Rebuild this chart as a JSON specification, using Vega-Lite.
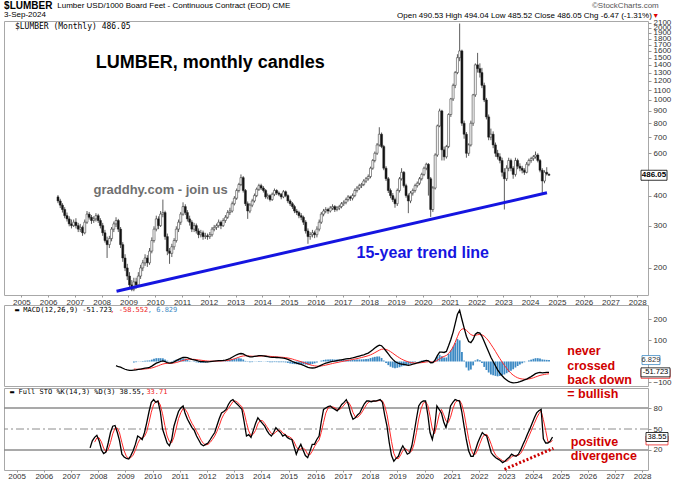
{
  "$schema": "https://vega.github.io/schema/vega-lite/v6.json",
  "background": "white",
  "padding": {"left": 2, "top": 0, "right": 0, "bottom": 0},
  "config": {
    "view": {"stroke": "#a8a8a8", "strokeWidth": 1},
    "axis": {"labelFont": "Liberation Sans", "labelFontSize": 8, "labelColor": "#333333", "domain": false, "tickColor": "#999999", "tickSize": 3, "grid": false, "labelPadding": 2},
    "text": {"font": "Liberation Sans"}
  },
  "datasets": {
    "px": [
      {"d":"2006-05-15","o":395,"h":402,"l":372,"c":380},{"d":"2006-06-15","o":380,"h":388,"l":355,"c":365},{"d":"2006-07-15","o":365,"h":372,"l":340,"c":350},{"d":"2006-08-15","o":350,"h":358,"l":322,"c":330},{"d":"2006-09-15","o":330,"h":340,"l":312,"c":320},{"d":"2006-10-15","o":320,"h":328,"l":298,"c":305},{"d":"2006-11-15","o":305,"h":318,"l":292,"c":300},{"d":"2006-12-15","o":300,"h":318,"l":296,"c":310},
      {"d":"2007-01-15","o":310,"h":322,"l":292,"c":300},{"d":"2007-02-15","o":300,"h":308,"l":282,"c":290},{"d":"2007-03-15","o":290,"h":305,"l":282,"c":295},{"d":"2007-04-15","o":295,"h":300,"l":272,"c":280},{"d":"2007-05-15","o":280,"h":318,"l":276,"c":310},{"d":"2007-06-15","o":310,"h":345,"l":305,"c":335},{"d":"2007-07-15","o":335,"h":342,"l":318,"c":325},{"d":"2007-08-15","o":325,"h":332,"l":305,"c":315},{"d":"2007-09-15","o":315,"h":328,"l":308,"c":320},{"d":"2007-10-15","o":320,"h":338,"l":312,"c":330},{"d":"2007-11-15","o":330,"h":336,"l":308,"c":315},{"d":"2007-12-15","o":315,"h":322,"l":292,"c":300},
      {"d":"2008-01-15","o":300,"h":308,"l":272,"c":280},{"d":"2008-02-15","o":280,"h":288,"l":255,"c":260},{"d":"2008-03-15","o":260,"h":270,"l":220,"c":250},{"d":"2008-04-15","o":250,"h":272,"l":242,"c":265},{"d":"2008-05-15","o":265,"h":296,"l":258,"c":290},{"d":"2008-06-15","o":290,"h":312,"l":282,"c":305},{"d":"2008-07-15","o":305,"h":325,"l":296,"c":315},{"d":"2008-08-15","o":315,"h":320,"l":282,"c":290},{"d":"2008-09-15","o":290,"h":296,"l":242,"c":250},{"d":"2008-10-15","o":250,"h":256,"l":212,"c":220},{"d":"2008-11-15","o":220,"h":228,"l":194,"c":200},{"d":"2008-12-15","o":200,"h":208,"l":178,"c":185},
      {"d":"2009-01-15","o":185,"h":192,"l":166,"c":170},{"d":"2009-02-15","o":170,"h":178,"l":160,"c":163},{"d":"2009-03-15","o":163,"h":182,"l":160,"c":175},{"d":"2009-04-15","o":175,"h":182,"l":164,"c":170},{"d":"2009-05-15","o":170,"h":192,"l":167,"c":185},{"d":"2009-06-15","o":185,"h":206,"l":180,"c":200},{"d":"2009-07-15","o":200,"h":216,"l":194,"c":210},{"d":"2009-08-15","o":210,"h":228,"l":204,"c":220},{"d":"2009-09-15","o":220,"h":226,"l":202,"c":210},{"d":"2009-10-15","o":210,"h":242,"l":206,"c":235},{"d":"2009-11-15","o":235,"h":268,"l":230,"c":260},{"d":"2009-12-15","o":260,"h":298,"l":255,"c":290},
      {"d":"2010-01-15","o":290,"h":330,"l":284,"c":320},{"d":"2010-02-15","o":320,"h":328,"l":290,"c":300},{"d":"2010-03-15","o":300,"h":345,"l":296,"c":335},{"d":"2010-04-15","o":335,"h":385,"l":325,"c":340},{"d":"2010-05-15","o":340,"h":346,"l":262,"c":270},{"d":"2010-06-15","o":270,"h":278,"l":226,"c":235},{"d":"2010-07-15","o":235,"h":242,"l":208,"c":230},{"d":"2010-08-15","o":230,"h":252,"l":222,"c":245},{"d":"2010-09-15","o":245,"h":266,"l":238,"c":260},{"d":"2010-10-15","o":260,"h":298,"l":255,"c":290},{"d":"2010-11-15","o":290,"h":318,"l":282,"c":310},{"d":"2010-12-15","o":310,"h":342,"l":302,"c":335},
      {"d":"2011-01-15","o":335,"h":375,"l":330,"c":360},{"d":"2011-02-15","o":360,"h":368,"l":332,"c":340},{"d":"2011-03-15","o":340,"h":348,"l":312,"c":320},{"d":"2011-04-15","o":320,"h":330,"l":300,"c":310},{"d":"2011-05-15","o":310,"h":316,"l":282,"c":290},{"d":"2011-06-15","o":290,"h":308,"l":282,"c":300},{"d":"2011-07-15","o":300,"h":306,"l":278,"c":285},{"d":"2011-08-15","o":285,"h":292,"l":266,"c":275},{"d":"2011-09-15","o":275,"h":288,"l":268,"c":280},{"d":"2011-10-15","o":280,"h":286,"l":262,"c":270},{"d":"2011-11-15","o":270,"h":280,"l":264,"c":272},{"d":"2011-12-15","o":272,"h":278,"l":262,"c":270},
      {"d":"2012-01-15","o":270,"h":282,"l":264,"c":275},{"d":"2012-02-15","o":275,"h":296,"l":270,"c":290},{"d":"2012-03-15","o":290,"h":302,"l":284,"c":295},{"d":"2012-04-15","o":295,"h":306,"l":288,"c":300},{"d":"2012-05-15","o":300,"h":318,"l":294,"c":310},{"d":"2012-06-15","o":310,"h":315,"l":290,"c":300},{"d":"2012-07-15","o":300,"h":322,"l":296,"c":315},{"d":"2012-08-15","o":315,"h":332,"l":308,"c":325},{"d":"2012-09-15","o":325,"h":348,"l":320,"c":340},{"d":"2012-10-15","o":340,"h":356,"l":332,"c":345},{"d":"2012-11-15","o":345,"h":378,"l":340,"c":370},{"d":"2012-12-15","o":370,"h":398,"l":364,"c":390},
      {"d":"2013-01-15","o":390,"h":428,"l":384,"c":420},{"d":"2013-02-15","o":420,"h":452,"l":412,"c":445},{"d":"2013-03-15","o":445,"h":490,"l":438,"c":475},{"d":"2013-04-15","o":475,"h":482,"l":412,"c":420},{"d":"2013-05-15","o":420,"h":426,"l":362,"c":370},{"d":"2013-06-15","o":370,"h":378,"l":320,"c":345},{"d":"2013-07-15","o":345,"h":372,"l":338,"c":365},{"d":"2013-08-15","o":365,"h":388,"l":358,"c":380},{"d":"2013-09-15","o":380,"h":408,"l":374,"c":400},{"d":"2013-10-15","o":400,"h":432,"l":394,"c":425},{"d":"2013-11-15","o":425,"h":448,"l":418,"c":440},{"d":"2013-12-15","o":440,"h":448,"l":422,"c":430},
      {"d":"2014-01-15","o":430,"h":438,"l":412,"c":420},{"d":"2014-02-15","o":420,"h":426,"l":388,"c":395},{"d":"2014-03-15","o":395,"h":408,"l":386,"c":400},{"d":"2014-04-15","o":400,"h":405,"l":378,"c":385},{"d":"2014-05-15","o":385,"h":412,"l":380,"c":405},{"d":"2014-06-15","o":405,"h":428,"l":398,"c":420},{"d":"2014-07-15","o":420,"h":425,"l":402,"c":410},{"d":"2014-08-15","o":410,"h":416,"l":398,"c":405},{"d":"2014-09-15","o":405,"h":410,"l":386,"c":395},{"d":"2014-10-15","o":395,"h":422,"l":390,"c":415},{"d":"2014-11-15","o":415,"h":420,"l":394,"c":400},{"d":"2014-12-15","o":400,"h":405,"l":372,"c":380},
      {"d":"2015-01-15","o":380,"h":386,"l":362,"c":370},{"d":"2015-02-15","o":370,"h":376,"l":352,"c":360},{"d":"2015-03-15","o":360,"h":366,"l":338,"c":345},{"d":"2015-04-15","o":345,"h":352,"l":332,"c":340},{"d":"2015-05-15","o":340,"h":346,"l":322,"c":330},{"d":"2015-06-15","o":330,"h":338,"l":316,"c":325},{"d":"2015-07-15","o":325,"h":330,"l":302,"c":310},{"d":"2015-08-15","o":310,"h":316,"l":278,"c":285},{"d":"2015-09-15","o":285,"h":292,"l":252,"c":270},{"d":"2015-10-15","o":270,"h":282,"l":262,"c":275},{"d":"2015-11-15","o":275,"h":288,"l":268,"c":280},{"d":"2015-12-15","o":280,"h":286,"l":266,"c":275},
      {"d":"2016-01-15","o":275,"h":298,"l":268,"c":290},{"d":"2016-02-15","o":290,"h":318,"l":284,"c":310},{"d":"2016-03-15","o":310,"h":342,"l":305,"c":335},{"d":"2016-04-15","o":335,"h":352,"l":328,"c":345},{"d":"2016-05-15","o":345,"h":358,"l":338,"c":350},{"d":"2016-06-15","o":350,"h":356,"l":336,"c":345},{"d":"2016-07-15","o":345,"h":362,"l":340,"c":355},{"d":"2016-08-15","o":355,"h":368,"l":348,"c":360},{"d":"2016-09-15","o":360,"h":365,"l":342,"c":350},{"d":"2016-10-15","o":350,"h":362,"l":344,"c":355},{"d":"2016-11-15","o":355,"h":366,"l":348,"c":360},{"d":"2016-12-15","o":360,"h":376,"l":354,"c":370},
      {"d":"2017-01-15","o":370,"h":382,"l":362,"c":375},{"d":"2017-02-15","o":375,"h":392,"l":368,"c":385},{"d":"2017-03-15","o":385,"h":402,"l":378,"c":395},{"d":"2017-04-15","o":395,"h":400,"l":380,"c":390},{"d":"2017-05-15","o":390,"h":408,"l":382,"c":400},{"d":"2017-06-15","o":400,"h":428,"l":394,"c":420},{"d":"2017-07-15","o":420,"h":438,"l":412,"c":430},{"d":"2017-08-15","o":430,"h":448,"l":422,"c":440},{"d":"2017-09-15","o":440,"h":452,"l":430,"c":445},{"d":"2017-10-15","o":445,"h":468,"l":438,"c":460},{"d":"2017-11-15","o":460,"h":478,"l":452,"c":470},{"d":"2017-12-15","o":470,"h":490,"l":462,"c":480},
      {"d":"2018-01-15","o":480,"h":528,"l":472,"c":520},{"d":"2018-02-15","o":520,"h":568,"l":512,"c":560},{"d":"2018-03-15","o":560,"h":610,"l":550,"c":600},{"d":"2018-04-15","o":600,"h":662,"l":590,"c":650},{"d":"2018-05-15","o":650,"h":770,"l":640,"c":720},{"d":"2018-06-15","o":720,"h":732,"l":630,"c":640},{"d":"2018-07-15","o":640,"h":650,"l":510,"c":520},{"d":"2018-08-15","o":520,"h":530,"l":460,"c":470},{"d":"2018-09-15","o":470,"h":478,"l":410,"c":420},{"d":"2018-10-15","o":420,"h":428,"l":390,"c":400},{"d":"2018-11-15","o":400,"h":410,"l":376,"c":385},{"d":"2018-12-15","o":385,"h":392,"l":356,"c":370},
      {"d":"2019-01-15","o":370,"h":428,"l":362,"c":420},{"d":"2019-02-15","o":420,"h":478,"l":412,"c":470},{"d":"2019-03-15","o":470,"h":520,"l":462,"c":500},{"d":"2019-04-15","o":500,"h":506,"l":432,"c":440},{"d":"2019-05-15","o":440,"h":448,"l":392,"c":400},{"d":"2019-06-15","o":400,"h":408,"l":338,"c":380},{"d":"2019-07-15","o":380,"h":418,"l":372,"c":410},{"d":"2019-08-15","o":410,"h":428,"l":400,"c":420},{"d":"2019-09-15","o":420,"h":448,"l":412,"c":440},{"d":"2019-10-15","o":440,"h":458,"l":432,"c":450},{"d":"2019-11-15","o":450,"h":478,"l":442,"c":470},{"d":"2019-12-15","o":470,"h":498,"l":462,"c":490},
      {"d":"2020-01-15","o":490,"h":528,"l":482,"c":520},{"d":"2020-02-15","o":520,"h":548,"l":510,"c":540},{"d":"2020-03-15","o":540,"h":546,"l":400,"c":470},{"d":"2020-04-15","o":470,"h":478,"l":326,"c":350},{"d":"2020-05-15","o":350,"h":438,"l":342,"c":430},{"d":"2020-06-15","o":430,"h":600,"l":424,"c":590},{"d":"2020-07-15","o":590,"h":790,"l":580,"c":780},{"d":"2020-08-15","o":780,"h":920,"l":770,"c":900},{"d":"2020-09-15","o":900,"h":910,"l":560,"c":620},{"d":"2020-10-15","o":620,"h":640,"l":560,"c":580},{"d":"2020-11-15","o":580,"h":650,"l":570,"c":640},{"d":"2020-12-15","o":640,"h":880,"l":630,"c":870},
      {"d":"2021-01-15","o":870,"h":1020,"l":850,"c":1010},{"d":"2021-02-15","o":1010,"h":1170,"l":990,"c":1150},{"d":"2021-03-15","o":1150,"h":1320,"l":1120,"c":1300},{"d":"2021-04-15","o":1300,"h":1550,"l":1280,"c":1500},{"d":"2021-05-15","o":1500,"h":2080,"l":1450,"c":1600},{"d":"2021-06-15","o":1600,"h":1620,"l":780,"c":800},{"d":"2021-07-15","o":800,"h":820,"l":690,"c":720},{"d":"2021-08-15","o":720,"h":735,"l":575,"c":600},{"d":"2021-09-15","o":600,"h":660,"l":585,"c":650},{"d":"2021-10-15","o":650,"h":820,"l":640,"c":800},{"d":"2021-11-15","o":800,"h":1060,"l":780,"c":1050},{"d":"2021-12-15","o":1050,"h":1420,"l":1030,"c":1400},
      {"d":"2022-01-15","o":1400,"h":1570,"l":1300,"c":1350},{"d":"2022-02-15","o":1350,"h":1420,"l":1240,"c":1300},{"d":"2022-03-15","o":1300,"h":1360,"l":1120,"c":1150},{"d":"2022-04-15","o":1150,"h":1180,"l":980,"c":1000},{"d":"2022-05-15","o":1000,"h":1020,"l":830,"c":850},{"d":"2022-06-15","o":850,"h":870,"l":680,"c":700},{"d":"2022-07-15","o":700,"h":760,"l":680,"c":720},{"d":"2022-08-15","o":720,"h":740,"l":630,"c":650},{"d":"2022-09-15","o":650,"h":665,"l":580,"c":600},{"d":"2022-10-15","o":600,"h":620,"l":565,"c":580},{"d":"2022-11-15","o":580,"h":600,"l":545,"c":560},{"d":"2022-12-15","o":560,"h":575,"l":480,"c":500},
      {"d":"2023-01-15","o":500,"h":520,"l":350,"c":470},{"d":"2023-02-15","o":470,"h":535,"l":460,"c":520},{"d":"2023-03-15","o":520,"h":575,"l":505,"c":560},{"d":"2023-04-15","o":560,"h":570,"l":505,"c":520},{"d":"2023-05-15","o":520,"h":530,"l":470,"c":490},{"d":"2023-06-15","o":490,"h":575,"l":480,"c":560},{"d":"2023-07-15","o":560,"h":570,"l":515,"c":530},{"d":"2023-08-15","o":530,"h":545,"l":505,"c":520},{"d":"2023-09-15","o":520,"h":532,"l":495,"c":510},{"d":"2023-10-15","o":510,"h":520,"l":488,"c":500},{"d":"2023-11-15","o":500,"h":552,"l":495,"c":540},{"d":"2023-12-15","o":540,"h":570,"l":530,"c":560},
      {"d":"2024-01-15","o":560,"h":580,"l":548,"c":570},{"d":"2024-02-15","o":570,"h":590,"l":558,"c":580},{"d":"2024-03-15","o":580,"h":610,"l":570,"c":590},{"d":"2024-04-15","o":590,"h":600,"l":550,"c":560},{"d":"2024-05-15","o":560,"h":568,"l":500,"c":510},{"d":"2024-06-15","o":510,"h":520,"l":410,"c":460},{"d":"2024-07-15","o":460,"h":510,"l":450,"c":500},{"d":"2024-08-15","o":500,"h":525,"l":485,"c":492},{"d":"2024-09-15","o":490.53,"h":494.04,"l":485.52,"c":486.05}
    ],
    "macd": [
      {"d":"2008-07-15","m":-20},{"d":"2008-08-15","m":-25},{"d":"2008-09-15","m":-27},{"d":"2008-10-15","m":-32},{"d":"2008-11-15","m":-37},{"d":"2008-12-15","m":-40},
      {"d":"2009-01-15","m":-42},{"d":"2009-02-15","m":-42},{"d":"2009-03-15","m":-41,"s":-36,"h":-5},{"d":"2009-04-15","m":-40,"s":-36.8,"h":-3.2},{"d":"2009-05-15","m":-38,"s":-37.2,"h":-0.8},{"d":"2009-06-15","m":-36,"s":-37,"h":1},{"d":"2009-07-15","m":-34,"s":-36.4,"h":2.4},{"d":"2009-08-15","m":-32,"s":-35.5,"h":3.5},{"d":"2009-09-15","m":-30,"s":-34.4,"h":4.4},{"d":"2009-10-15","m":-28,"s":-33.1,"h":5.1},{"d":"2009-11-15","m":-22,"s":-30.9,"h":8.9},{"d":"2009-12-15","m":-15,"s":-27.7,"h":12.7},
      {"d":"2010-01-15","m":-8,"s":-23.8,"h":15.8},{"d":"2010-02-15","m":-4,"s":-19.8,"h":15.8},{"d":"2010-03-15","m":0,"s":-15.8,"h":15.8},{"d":"2010-04-15","m":3,"s":-12.1,"h":15.1},{"d":"2010-05-15","m":-1,"s":-9.9,"h":8.9},{"d":"2010-06-15","m":-5,"s":-8.9,"h":3.9},{"d":"2010-07-15","m":-8,"s":-8.7,"h":0.7},{"d":"2010-08-15","m":-6,"s":-8.2,"h":2.2},{"d":"2010-09-15","m":-2,"s":-7,"h":5},{"d":"2010-10-15","m":4,"s":-4.8,"h":8.8},{"d":"2010-11-15","m":10,"s":-1.8,"h":11.8},{"d":"2010-12-15","m":15,"s":1.6,"h":13.4},
      {"d":"2011-01-15","m":19,"s":5.1,"h":13.9},{"d":"2011-02-15","m":20,"s":8.1,"h":11.9},{"d":"2011-03-15","m":18,"s":10.1,"h":7.9},{"d":"2011-04-15","m":14,"s":10.9,"h":3.1},{"d":"2011-05-15","m":10,"s":10.7,"h":-0.7},{"d":"2011-06-15","m":8,"s":10.2,"h":-2.2},{"d":"2011-07-15","m":5,"s":9.1,"h":-4.1},{"d":"2011-08-15","m":2,"s":7.7,"h":-5.7},{"d":"2011-09-15","m":0,"s":6.2,"h":-6.2},{"d":"2011-10-15","m":-1,"s":4.7,"h":-5.7},{"d":"2011-11-15","m":-2,"s":3.4,"h":-5.4},{"d":"2011-12-15","m":-2,"s":2.3,"h":-4.3},
      {"d":"2012-01-15","m":-1,"s":1.6,"h":-2.6},{"d":"2012-02-15","m":1,"s":1.5,"h":-0.5},{"d":"2012-03-15","m":2,"s":1.6,"h":0.4},{"d":"2012-04-15","m":3,"s":1.9,"h":1.1},{"d":"2012-05-15","m":4,"s":2.3,"h":1.7},{"d":"2012-06-15","m":4,"s":2.6,"h":1.4},{"d":"2012-07-15","m":5,"s":3.1,"h":1.9},{"d":"2012-08-15","m":7,"s":3.9,"h":3.1},{"d":"2012-09-15","m":10,"s":5.1,"h":4.9},{"d":"2012-10-15","m":14,"s":6.9,"h":7.1},{"d":"2012-11-15","m":20,"s":9.5,"h":10.5},{"d":"2012-12-15","m":26,"s":12.8,"h":13.2},
      {"d":"2013-01-15","m":32,"s":16.6,"h":15.4},{"d":"2013-02-15","m":36,"s":20.5,"h":15.5},{"d":"2013-03-15","m":38,"s":24,"h":14},{"d":"2013-04-15","m":36,"s":26.4,"h":9.6},{"d":"2013-05-15","m":30,"s":27.1,"h":2.9},{"d":"2013-06-15","m":25,"s":26.7,"h":-1.7},{"d":"2013-07-15","m":22,"s":25.8,"h":-3.8},{"d":"2013-08-15","m":22,"s":25,"h":-3},{"d":"2013-09-15","m":24,"s":24.8,"h":-0.8},{"d":"2013-10-15","m":26,"s":25,"h":1},{"d":"2013-11-15","m":28,"s":25.6,"h":2.4},{"d":"2013-12-15","m":28,"s":26.1,"h":1.9},
      {"d":"2014-01-15","m":27,"s":26.3,"h":0.7},{"d":"2014-02-15","m":25,"s":26,"h":-1},{"d":"2014-03-15","m":23,"s":25.4,"h":-2.4},{"d":"2014-04-15","m":21,"s":24.5,"h":-3.5},{"d":"2014-05-15","m":20,"s":23.6,"h":-3.6},{"d":"2014-06-15","m":20,"s":22.9,"h":-2.9},{"d":"2014-07-15","m":19,"s":22.1,"h":-3.1},{"d":"2014-08-15","m":18,"s":21.3,"h":-3.3},{"d":"2014-09-15","m":17,"s":20.4,"h":-3.4},{"d":"2014-10-15","m":16,"s":19.5,"h":-3.5},{"d":"2014-11-15","m":14,"s":18.4,"h":-4.4},{"d":"2014-12-15","m":10,"s":16.7,"h":-6.7},
      {"d":"2015-01-15","m":5,"s":14.4,"h":-9.4},{"d":"2015-02-15","m":0,"s":11.5,"h":-11.5},{"d":"2015-03-15","m":-4,"s":8.4,"h":-12.4},{"d":"2015-04-15","m":-8,"s":5.1,"h":-13.1},{"d":"2015-05-15","m":-11,"s":1.9,"h":-12.9},{"d":"2015-06-15","m":-14,"s":-1.3,"h":-12.7},{"d":"2015-07-15","m":-18,"s":-4.6,"h":-13.4},{"d":"2015-08-15","m":-23,"s":-8.3,"h":-14.7},{"d":"2015-09-15","m":-28,"s":-12.2,"h":-15.8},{"d":"2015-10-15","m":-30,"s":-15.8,"h":-14.2},{"d":"2015-11-15","m":-31,"s":-18.8,"h":-12.2},{"d":"2015-12-15","m":-30,"s":-21,"h":-9},
      {"d":"2016-01-15","m":-27,"s":-22.2,"h":-4.8},{"d":"2016-02-15","m":-22,"s":-22.2,"h":0.2},{"d":"2016-03-15","m":-17,"s":-21.2,"h":4.2},{"d":"2016-04-15","m":-12,"s":-19.3,"h":7.3},{"d":"2016-05-15","m":-8,"s":-17.1,"h":9.1},{"d":"2016-06-15","m":-5,"s":-14.7,"h":9.7},{"d":"2016-07-15","m":-2,"s":-12.1,"h":10.1},{"d":"2016-08-15","m":1,"s":-9.5,"h":10.5},{"d":"2016-09-15","m":2,"s":-7.2,"h":9.2},{"d":"2016-10-15","m":4,"s":-5,"h":9},{"d":"2016-11-15","m":6,"s":-2.8,"h":8.8},{"d":"2016-12-15","m":8,"s":-0.6,"h":8.6},
      {"d":"2017-01-15","m":10,"s":1.5,"h":8.5},{"d":"2017-02-15","m":12,"s":3.6,"h":8.4},{"d":"2017-03-15","m":14,"s":5.7,"h":8.3},{"d":"2017-04-15","m":15,"s":7.5,"h":7.5},{"d":"2017-05-15","m":17,"s":9.4,"h":7.6},{"d":"2017-06-15","m":20,"s":11.5,"h":8.5},{"d":"2017-07-15","m":23,"s":13.8,"h":9.2},{"d":"2017-08-15","m":26,"s":16.3,"h":9.7},{"d":"2017-09-15","m":29,"s":18.8,"h":10.2},{"d":"2017-10-15","m":32,"s":21.5,"h":10.5},{"d":"2017-11-15","m":36,"s":24.4,"h":11.6},{"d":"2017-12-15","m":40,"s":27.5,"h":12.5},
      {"d":"2018-01-15","m":48,"s":31.6,"h":16.4},{"d":"2018-02-15","m":56,"s":36.5,"h":19.5},{"d":"2018-03-15","m":64,"s":42,"h":22},{"d":"2018-04-15","m":72,"s":48,"h":24},{"d":"2018-05-15","m":78,"s":54,"h":24},{"d":"2018-06-15","m":75,"s":58.2,"h":16.8},{"d":"2018-07-15","m":64,"s":59.3,"h":4.7},{"d":"2018-08-15","m":50,"s":57.5,"h":-7.5},{"d":"2018-09-15","m":36,"s":53.2,"h":-17.2},{"d":"2018-10-15","m":22,"s":46.9,"h":-24.9},{"d":"2018-11-15","m":10,"s":39.5,"h":-29.5},{"d":"2018-12-15","m":0,"s":31.6,"h":-31.6},
      {"d":"2019-01-15","m":-6,"s":24.1,"h":-30.1},{"d":"2019-02-15","m":-10,"s":17.3,"h":-27.3},{"d":"2019-03-15","m":-12,"s":11.4,"h":-23.4},{"d":"2019-04-15","m":-14,"s":6.3,"h":-20.3},{"d":"2019-05-15","m":-16,"s":1.9,"h":-17.9},{"d":"2019-06-15","m":-18,"s":-2.1,"h":-15.9},{"d":"2019-07-15","m":-16,"s":-4.9,"h":-11.1},{"d":"2019-08-15","m":-13,"s":-6.5,"h":-6.5},{"d":"2019-09-15","m":-10,"s":-7.2,"h":-2.8},{"d":"2019-10-15","m":-7,"s":-7.2,"h":0.2},{"d":"2019-11-15","m":-4,"s":-6.5,"h":2.5},{"d":"2019-12-15","m":-1,"s":-5.4,"h":4.4},
      {"d":"2020-01-15","m":2,"s":-3.9,"h":5.9},{"d":"2020-02-15","m":5,"s":-2.1,"h":7.1},{"d":"2020-03-15","m":3,"s":-1.1,"h":4.1},{"d":"2020-04-15","m":-6,"s":-2.1,"h":-3.9},{"d":"2020-05-15","m":-5,"s":-2.7,"h":-2.3},{"d":"2020-06-15","m":8,"s":-0.6,"h":8.6},{"d":"2020-07-15","m":28,"s":5.1,"h":22.9},{"d":"2020-08-15","m":45,"s":13.1,"h":31.9},{"d":"2020-09-15","m":45,"s":19.5,"h":25.5},{"d":"2020-10-15","m":43,"s":24.2,"h":18.8},{"d":"2020-11-15","m":48,"s":28.9,"h":19.1},{"d":"2020-12-15","m":75,"s":38.1,"h":36.9},
      {"d":"2021-01-15","m":105,"s":51.5,"h":53.5},{"d":"2021-02-15","m":140,"s":69.2,"h":70.8},{"d":"2021-03-15","m":180,"s":91.4,"h":88.6},{"d":"2021-04-15","m":225,"s":118.1,"h":106.9},{"d":"2021-05-15","m":244,"s":143.3,"h":100.7},{"d":"2021-06-15","m":200,"s":154.6,"h":45.4},{"d":"2021-07-15","m":160,"s":155.7,"h":4.3},{"d":"2021-08-15","m":120,"s":148.6,"h":-28.6},{"d":"2021-09-15","m":95,"s":137.9,"h":-42.9},{"d":"2021-10-15","m":90,"s":128.3,"h":-38.3},{"d":"2021-11-15","m":105,"s":123.6,"h":-18.6},{"d":"2021-12-15","m":130,"s":124.9,"h":5.1},
      {"d":"2022-01-15","m":138,"s":127.5,"h":10.5},{"d":"2022-02-15","m":135,"s":129,"h":6},{"d":"2022-03-15","m":120,"s":127.2,"h":-7.2},{"d":"2022-04-15","m":95,"s":120.8,"h":-25.8},{"d":"2022-05-15","m":70,"s":110.6,"h":-40.6},{"d":"2022-06-15","m":45,"s":97.5,"h":-52.5},{"d":"2022-07-15","m":20,"s":82,"h":-62},{"d":"2022-08-15","m":0,"s":65.6,"h":-65.6},{"d":"2022-09-15","m":-20,"s":48.5,"h":-68.5},{"d":"2022-10-15","m":-40,"s":30.8,"h":-70.8},{"d":"2022-11-15","m":-55,"s":13.6,"h":-68.6},{"d":"2022-12-15","m":-68,"s":-2.7,"h":-65.3},
      {"d":"2023-01-15","m":-80,"s":-18.2,"h":-61.8},{"d":"2023-02-15","m":-88,"s":-32.1,"h":-55.9},{"d":"2023-03-15","m":-95,"s":-44.7,"h":-50.3},{"d":"2023-04-15","m":-100,"s":-55.8,"h":-44.2},{"d":"2023-05-15","m":-102,"s":-65,"h":-37},{"d":"2023-06-15","m":-101,"s":-72.2,"h":-28.8},{"d":"2023-07-15","m":-99,"s":-77.6,"h":-21.4},{"d":"2023-08-15","m":-96,"s":-81.3,"h":-14.7},{"d":"2023-09-15","m":-92,"s":-83.4,"h":-8.6},{"d":"2023-10-15","m":-88,"s":-84.3,"h":-3.7},{"d":"2023-11-15","m":-84,"s":-84.3,"h":0.3},{"d":"2023-12-15","m":-78,"s":-83,"h":5},
      {"d":"2024-01-15","m":-72,"s":-80.8,"h":8.8},{"d":"2024-02-15","m":-65,"s":-77.7,"h":12.7},{"d":"2024-03-15","m":-58,"s":-73.7,"h":15.7},{"d":"2024-04-15","m":-54,"s":-69.8,"h":15.8},{"d":"2024-05-15","m":-52,"s":-66.2,"h":14.2},{"d":"2024-06-15","m":-54,"s":-63.8,"h":9.8},{"d":"2024-07-15","m":-53,"s":-61.6,"h":8.6},{"d":"2024-08-15","m":-52,"s":-59.7,"h":7.7},{"d":"2024-09-15","m":-51.723,"s":-58.552,"h":6.829}
    ],
    "sto": [
      {"d":"2007-09-15","k":23},{"d":"2007-10-15","k":33},{"d":"2007-11-15","k":38,"dk":31.3},{"d":"2007-12-15","k":41,"dk":37.3},
      {"d":"2008-01-15","k":33,"dk":37.3},{"d":"2008-02-15","k":20,"dk":31.3},{"d":"2008-03-15","k":15,"dk":22.7},{"d":"2008-04-15","k":17,"dk":17.3},{"d":"2008-05-15","k":30,"dk":20.7},{"d":"2008-06-15","k":45,"dk":30.7},{"d":"2008-07-15","k":54,"dk":43},{"d":"2008-08-15","k":55,"dk":51.3},{"d":"2008-09-15","k":45,"dk":51.3},{"d":"2008-10-15","k":33,"dk":44.3},{"d":"2008-11-15","k":14,"dk":30.7},{"d":"2008-12-15","k":10,"dk":19},
      {"d":"2009-01-15","k":8,"dk":10.7},{"d":"2009-02-15","k":7,"dk":8.3},{"d":"2009-03-15","k":12,"dk":9},{"d":"2009-04-15","k":19,"dk":12.7},{"d":"2009-05-15","k":28,"dk":19.7},{"d":"2009-06-15","k":40,"dk":29},{"d":"2009-07-15","k":38,"dk":35.3},{"d":"2009-08-15","k":35,"dk":37.7},{"d":"2009-09-15","k":45,"dk":39.3},{"d":"2009-10-15","k":59,"dk":46.3},{"d":"2009-11-15","k":75,"dk":59.7},{"d":"2009-12-15","k":88,"dk":74},
      {"d":"2010-01-15","k":92,"dk":85},{"d":"2010-02-15","k":88,"dk":89.3},{"d":"2010-03-15","k":90,"dk":90},{"d":"2010-04-15","k":75,"dk":84.3},{"d":"2010-05-15","k":50,"dk":71.7},{"d":"2010-06-15","k":40,"dk":55},{"d":"2010-07-15","k":30,"dk":40},{"d":"2010-08-15","k":26,"dk":32},{"d":"2010-09-15","k":35,"dk":30.3},{"d":"2010-10-15","k":54,"dk":38.3},{"d":"2010-11-15","k":65,"dk":51.3},{"d":"2010-12-15","k":75,"dk":64.7},
      {"d":"2011-01-15","k":80,"dk":73.3},{"d":"2011-02-15","k":83,"dk":79.3},{"d":"2011-03-15","k":72,"dk":78.3},{"d":"2011-04-15","k":64,"dk":73},{"d":"2011-05-15","k":58,"dk":64.7},{"d":"2011-06-15","k":52,"dk":58},{"d":"2011-07-15","k":48,"dk":52.7},{"d":"2011-08-15","k":40,"dk":46.7},{"d":"2011-09-15","k":34,"dk":40.7},{"d":"2011-10-15","k":28,"dk":34},{"d":"2011-11-15","k":26,"dk":29.3},{"d":"2011-12-15","k":28,"dk":27.3},
      {"d":"2012-01-15","k":30,"dk":28},{"d":"2012-02-15","k":35,"dk":31},{"d":"2012-03-15","k":40,"dk":35},{"d":"2012-04-15","k":45,"dk":40},{"d":"2012-05-15","k":55,"dk":46.7},{"d":"2012-06-15","k":65,"dk":55},{"d":"2012-07-15","k":73,"dk":64.3},{"d":"2012-08-15","k":75,"dk":71},{"d":"2012-09-15","k":78,"dk":75.3},{"d":"2012-10-15","k":85,"dk":79.3},{"d":"2012-11-15","k":90,"dk":84.3},{"d":"2012-12-15","k":92,"dk":89},
      {"d":"2013-01-15","k":88,"dk":90},{"d":"2013-02-15","k":85,"dk":88.3},{"d":"2013-03-15","k":82,"dk":85},{"d":"2013-04-15","k":78,"dk":81.7},{"d":"2013-05-15","k":60,"dk":73.3},{"d":"2013-06-15","k":40,"dk":59.3},{"d":"2013-07-15","k":42,"dk":47.3},{"d":"2013-08-15","k":38,"dk":40},{"d":"2013-09-15","k":48,"dk":42.7},{"d":"2013-10-15","k":58,"dk":48},{"d":"2013-11-15","k":66,"dk":57.3},{"d":"2013-12-15","k":62,"dk":62},
      {"d":"2014-01-15","k":58,"dk":62},{"d":"2014-02-15","k":54,"dk":58},{"d":"2014-03-15","k":48,"dk":53.3},{"d":"2014-04-15","k":43,"dk":48.3},{"d":"2014-05-15","k":40,"dk":43.7},{"d":"2014-06-15","k":45,"dk":42.7},{"d":"2014-07-15","k":52,"dk":45.7},{"d":"2014-08-15","k":48,"dk":48.3},{"d":"2014-09-15","k":45,"dk":48.3},{"d":"2014-10-15","k":40,"dk":44.3},{"d":"2014-11-15","k":42,"dk":42.3},{"d":"2014-12-15","k":38,"dk":40},
      {"d":"2015-01-15","k":36,"dk":38.7},{"d":"2015-02-15","k":35,"dk":36.3},{"d":"2015-03-15","k":25,"dk":32},{"d":"2015-04-15","k":14,"dk":24.7},{"d":"2015-05-15","k":22,"dk":20.3},{"d":"2015-06-15","k":28,"dk":21.3},{"d":"2015-07-15","k":20,"dk":23.3},{"d":"2015-08-15","k":12,"dk":20},{"d":"2015-09-15","k":9,"dk":13.7},{"d":"2015-10-15","k":18,"dk":13},{"d":"2015-11-15","k":28,"dk":18.3},{"d":"2015-12-15","k":28,"dk":24.7},
      {"d":"2016-01-15","k":35,"dk":30.3},{"d":"2016-02-15","k":40,"dk":34.3},{"d":"2016-03-15","k":60,"dk":45},{"d":"2016-04-15","k":78,"dk":59.3},{"d":"2016-05-15","k":80,"dk":72.7},{"d":"2016-06-15","k":82,"dk":80},{"d":"2016-07-15","k":83,"dk":81.7},{"d":"2016-08-15","k":80,"dk":81.7},{"d":"2016-09-15","k":78,"dk":80.3},{"d":"2016-10-15","k":76,"dk":78},{"d":"2016-11-15","k":80,"dk":78},{"d":"2016-12-15","k":85,"dk":80.3},
      {"d":"2017-01-15","k":88,"dk":84.3},{"d":"2017-02-15","k":92,"dk":88.3},{"d":"2017-03-15","k":85,"dk":88.3},{"d":"2017-04-15","k":72,"dk":83},{"d":"2017-05-15","k":64,"dk":73.7},{"d":"2017-06-15","k":66,"dk":67.3},{"d":"2017-07-15","k":70,"dk":66.7},{"d":"2017-08-15","k":73,"dk":69.7},{"d":"2017-09-15","k":80,"dk":74.3},{"d":"2017-10-15","k":86,"dk":79.7},{"d":"2017-11-15","k":90,"dk":85.3},{"d":"2017-12-15","k":90,"dk":88.7},
      {"d":"2018-01-15","k":89,"dk":89.7},{"d":"2018-02-15","k":90,"dk":89.7},{"d":"2018-03-15","k":90,"dk":89.7},{"d":"2018-04-15","k":91,"dk":90.3},{"d":"2018-05-15","k":92,"dk":91},{"d":"2018-06-15","k":88,"dk":90.3},{"d":"2018-07-15","k":70,"dk":83.3},{"d":"2018-08-15","k":54,"dk":70.7},{"d":"2018-09-15","k":30,"dk":51.3},{"d":"2018-10-15","k":12,"dk":32},{"d":"2018-11-15","k":4,"dk":15.3},{"d":"2018-12-15","k":8,"dk":8},
      {"d":"2019-01-15","k":11,"dk":7.7},{"d":"2019-02-15","k":20,"dk":13},{"d":"2019-03-15","k":26,"dk":19},{"d":"2019-04-15","k":20,"dk":22},{"d":"2019-05-15","k":14,"dk":20},{"d":"2019-06-15","k":16,"dk":16.7},{"d":"2019-07-15","k":26,"dk":18.7},{"d":"2019-08-15","k":45,"dk":29},{"d":"2019-09-15","k":65,"dk":45.3},{"d":"2019-10-15","k":83,"dk":64.3},{"d":"2019-11-15","k":88,"dk":78.7},{"d":"2019-12-15","k":90,"dk":87},
      {"d":"2020-01-15","k":90,"dk":89.3},{"d":"2020-02-15","k":70,"dk":83.3},{"d":"2020-03-15","k":45,"dk":68.3},{"d":"2020-04-15","k":35,"dk":50},{"d":"2020-05-15","k":50,"dk":43.3},{"d":"2020-06-15","k":83,"dk":56},{"d":"2020-07-15","k":78,"dk":70.3},{"d":"2020-08-15","k":73,"dk":78},{"d":"2020-09-15","k":60,"dk":70.3},{"d":"2020-10-15","k":52,"dk":61.7},{"d":"2020-11-15","k":65,"dk":59},{"d":"2020-12-15","k":83,"dk":66.7},
      {"d":"2021-01-15","k":88,"dk":78.7},{"d":"2021-02-15","k":92,"dk":87.7},{"d":"2021-03-15","k":91,"dk":90.3},{"d":"2021-04-15","k":90,"dk":91},{"d":"2021-05-15","k":75,"dk":85.3},{"d":"2021-06-15","k":54,"dk":73},{"d":"2021-07-15","k":35,"dk":54.7},{"d":"2021-08-15","k":19,"dk":36},{"d":"2021-09-15","k":11,"dk":21.7},{"d":"2021-10-15","k":11,"dk":13.7},{"d":"2021-11-15","k":20,"dk":14},{"d":"2021-12-15","k":30,"dk":20.3},
      {"d":"2022-01-15","k":38,"dk":29.3},{"d":"2022-02-15","k":45,"dk":37.7},{"d":"2022-03-15","k":42,"dk":41.7},{"d":"2022-04-15","k":40,"dk":42.3},{"d":"2022-05-15","k":28,"dk":36.7},{"d":"2022-06-15","k":16,"dk":28},{"d":"2022-07-15","k":12,"dk":18.7},{"d":"2022-08-15","k":9,"dk":12.3},{"d":"2022-09-15","k":7,"dk":9.3},{"d":"2022-10-15","k":5,"dk":7},{"d":"2022-11-15","k":2,"dk":4.7},{"d":"2022-12-15","k":4,"dk":3.7},
      {"d":"2023-01-15","k":7,"dk":4.3},{"d":"2023-02-15","k":10,"dk":7},{"d":"2023-03-15","k":14,"dk":10.3},{"d":"2023-04-15","k":12,"dk":12},{"d":"2023-05-15","k":11,"dk":12.3},{"d":"2023-06-15","k":14,"dk":12.3},{"d":"2023-07-15","k":20,"dk":15},{"d":"2023-08-15","k":28,"dk":20.7},{"d":"2023-09-15","k":35,"dk":27.7},{"d":"2023-10-15","k":43,"dk":35.3},{"d":"2023-11-15","k":50,"dk":42.7},{"d":"2023-12-15","k":58,"dk":50.3},
      {"d":"2024-01-15","k":66,"dk":58},{"d":"2024-02-15","k":73,"dk":65.7},{"d":"2024-03-15","k":76,"dk":71.7},{"d":"2024-04-15","k":78,"dk":75.7},{"d":"2024-05-15","k":36,"dk":63.3},{"d":"2024-06-15","k":30,"dk":48},{"d":"2024-07-15","k":30,"dk":32},{"d":"2024-08-15","k":32.6,"dk":30.9},{"d":"2024-09-15","k":38.55,"dk":33.71}
    ]
  },
  "bounds": "flush",
  "spacing": 10,
  "vconcat": [
    {
      "width": 644,
      "height": 274,
      "layer": [
        {
          "data": {"name": "px"},
          "mark": {"type": "rule", "color": "#333333", "strokeWidth": 0.8},
          "encoding": {
            "x": {"field": "d", "type": "temporal", "title": null,
                  "scale": {"domain": [{"year": 2004, "month": 7, "date": 16}, {"year": 2028, "month": 3, "date": 20}]},
                  "axis": {"orient": "bottom", "format": "%Y", "tickCount": {"interval": "year", "step": 1}, "labelPadding": 1, "tickSize": 2, "labelOverlap": false, "labelFlush": false}},
            "y": {"field": "l", "type": "quantitative", "title": null,
                  "scale": {"type": "log", "domain": [154.3, 2131], "nice": false},
                  "axis": {"orient": "right", "values": [200, 300, 400, 500, 600, 700, 800, 900, 1000, 1100, 1200, 1300, 1400, 1500, 1600, 1700, 1800, 1900, 2000, 2100], "labelOverlap": false, "format": "d"}},
            "y2": {"field": "h"}
          }
        },
        {
          "data": {"name": "px"},
          "mark": {"type": "bar", "size": 2, "stroke": "#222222", "strokeWidth": 0.5},
          "encoding": {
            "x": {"field": "d", "type": "temporal", "title": null},
            "y": {"field": "o", "type": "quantitative", "title": null},
            "y2": {"field": "c"},
            "fill": {"condition": {"test": "datum.c > datum.o", "value": "#ffffff"}, "value": "#111111"}
          }
        },
        {
          "data": {"values": [{"d": "2008-07-22", "p": 160}, {"d": "2024-08-18", "p": 411}]},
          "mark": {"type": "line", "color": "#1515e0", "strokeWidth": 3},
          "encoding": {
            "x": {"field": "d", "type": "temporal", "title": null},
            "y": {"field": "p", "type": "quantitative", "title": null}
          }
        },
        {
          "data": {"values": [{}]},
          "mark": {"type": "text", "text": "LUMBER, monthly candles", "fontSize": 18, "fontWeight": "bold", "align": "left", "baseline": "middle", "color": "#000000"},
          "encoding": {"x": {"datum": {"year": 2007, "month": 10, "date": 12}, "type": "temporal"}, "y": {"datum": 1428}}
        },
        {
          "data": {"values": [{}]},
          "mark": {"type": "text", "text": "graddhy.com - join us", "fontSize": 13, "fontWeight": "bold", "align": "left", "baseline": "middle", "color": "#707070"},
          "encoding": {"x": {"datum": {"year": 2007, "month": 9, "date": 12}, "type": "temporal"}, "y": {"datum": 423}}
        },
        {
          "data": {"values": [{}]},
          "mark": {"type": "text", "text": "15-year trend line", "fontSize": 16, "fontWeight": "bold", "align": "left", "baseline": "middle", "color": "#1515e0"},
          "encoding": {"x": {"datum": {"year": 2017, "month": 7, "date": 8}, "type": "temporal"}, "y": {"datum": 231}}
        },
        {
          "data": {"values": [{}]},
          "mark": {"type": "text", "text": "$LUMBER", "fontSize": 10, "fontWeight": "bold", "font": "Liberation Sans Narrow, Liberation Sans", "align": "left", "baseline": "middle", "color": "#000000"},
          "encoding": {"x": {"datum": {"year": 2004, "month": 5, "date": 10}, "type": "temporal"}, "y": {"datum": 2470}}
        },
        {
          "data": {"values": [{}]},
          "mark": {"type": "text", "text": "Lumber USD/1000 Board Feet - Continuous Contract (EOD)  CME", "fontSize": 8, "font": "Liberation Sans Narrow, Liberation Sans", "align": "left", "baseline": "middle", "color": "#000000"},
          "encoding": {"x": {"datum": {"year": 2006, "month": 5, "date": 5}, "type": "temporal"}, "y": {"datum": 2470}}
        },
        {
          "data": {"values": [{}]},
          "mark": {"type": "text", "text": "3-Sep-2024", "fontSize": 8, "align": "left", "baseline": "middle", "color": "#000000"},
          "encoding": {"x": {"datum": {"year": 2004, "month": 5, "date": 10}, "type": "temporal"}, "y": {"datum": 2266}}
        },
        {
          "data": {"values": [{}]},
          "mark": {"type": "text", "text": "©StockCharts.com", "fontSize": 8, "align": "right", "baseline": "middle", "color": "#555555"},
          "encoding": {"x": {"datum": {"year": 2028, "month": 10, "date": 21}, "type": "temporal"}, "y": {"datum": 2470}}
        },
        {
          "data": {"values": [{}]},
          "mark": {"type": "text", "text": "Open 490.53  High 494.04  Low 485.52  Close 486.05  Chg -6.47 (-1.31%)", "fontSize": 8, "font": "Liberation Sans Narrow, Liberation Sans", "align": "right", "baseline": "middle", "color": "#000000"},
          "encoding": {"x": {"datum": {"year": 2028, "month": 7, "date": 19}, "type": "temporal"}, "y": {"datum": 2245}}
        },
        {
          "data": {"values": [{}]},
          "mark": {"type": "text", "text": "▼", "fontSize": 7, "align": "center", "baseline": "middle", "color": "#dd0000"},
          "encoding": {"x": {"datum": {"year": 2028, "month": 9, "date": 11}, "type": "temporal"}, "y": {"datum": 2245}}
        },
        {
          "data": {"values": [{}]},
          "mark": {"type": "text", "text": "$LUMBER (Monthly) 486.05", "fontSize": 8, "font": "DejaVu Sans Mono", "align": "left", "baseline": "middle", "color": "#000000"},
          "encoding": {"x": {"datum": {"year": 2004, "month": 10, "date": 5}, "type": "temporal"}, "y": {"datum": 2019}}
        },
        {
          "data": {"values": [{}]},
          "mark": {"type": "rect", "fill": "#ffffff", "stroke": "#000000", "strokeWidth": 0.8, "xOffset": -2, "x2Offset": 24, "yOffset": -5, "y2Offset": 5},
          "encoding": {"x": {"datum": {"year": 2028, "month": 3, "date": 20}, "type": "temporal"}, "x2": {"datum": {"year": 2028, "month": 3, "date": 20}}, "y": {"datum": 486.05}, "y2": {"datum": 486.05}}
        },
        {
          "data": {"values": [{}]},
          "mark": {"type": "text", "text": "486.05", "fontSize": 8, "fontWeight": "bold", "dx": 11, "align": "center", "baseline": "middle", "color": "#000000"},
          "encoding": {"x": {"datum": {"year": 2028, "month": 3, "date": 20}, "type": "temporal"}, "y": {"datum": 486.05}}
        }
      ]
    },
    {
      "bounds": "flush",
      "spacing": 2,
      "vconcat": [
        {
          "width": 644,
          "height": 81,
          "layer": [
            {
              "data": {"name": "macd"},
              "mark": {"type": "bar", "size": 1.8, "color": "#3d8ac4"},
              "encoding": {
                "x": {"field": "d", "type": "temporal", "title": null,
                      "scale": {"domain": [{"year": 2004, "month": 7, "date": 16}, {"year": 2028, "month": 3, "date": 20}]}, "axis": null},
                "y": {"field": "h", "type": "quantitative", "title": null,
                      "scale": {"domain": [-116.7, 269], "nice": false, "zero": false},
                      "axis": {"orient": "right", "values": [250, 200, 150, 100, 50, -100], "labelOverlap": false}},
                "y2": {"datum": 0}
              }
            },
            {
              "data": {"name": "macd"},
              "mark": {"type": "line", "color": "#ff2a2a", "strokeWidth": 1},
              "encoding": {"x": {"field": "d", "type": "temporal", "title": null}, "y": {"field": "s", "type": "quantitative", "title": null}}
            },
            {
              "data": {"name": "macd"},
              "mark": {"type": "line", "color": "#000000", "strokeWidth": 1.3},
              "encoding": {"x": {"field": "d", "type": "temporal", "title": null}, "y": {"field": "m", "type": "quantitative", "title": null}}
            },
            {
              "data": {"values": [{}]},
              "mark": {"type": "text", "text": ["never", "crossed", "back down", "= bullish"], "lineHeight": 14.3, "fontSize": 12.5, "fontWeight": "bold", "align": "left", "baseline": "alphabetic", "color": "#d00000"},
              "encoding": {"x": {"datum": {"year": 2025, "month": 5, "date": 22}, "type": "temporal"}, "y": {"datum": 28.6}}
            },
            {
              "data": {"values": [{}]},
              "mark": {"type": "text", "text": "▬ MACD(12,26,9) -51.723", "fontSize": 7, "font": "DejaVu Sans Mono", "align": "left", "baseline": "middle", "color": "#000000"},
              "encoding": {"x": {"datum": {"year": 2004, "month": 10, "date": 5}, "type": "temporal"}, "y": {"datum": 243.8}}
            },
            {
              "data": {"values": [{}]},
              "mark": {"type": "text", "text": ", -58.552", "fontSize": 7, "font": "DejaVu Sans Mono", "align": "left", "baseline": "middle", "color": "#ee2222"},
              "encoding": {"x": {"datum": {"year": 2008, "month": 4, "date": 28}, "type": "temporal"}, "y": {"datum": 243.8}}
            },
            {
              "data": {"values": [{}]},
              "mark": {"type": "text", "text": ", 6.829", "fontSize": 7, "font": "DejaVu Sans Mono", "align": "left", "baseline": "middle", "color": "#3d8ac4"},
              "encoding": {"x": {"datum": {"year": 2009, "month": 9, "date": 21}, "type": "temporal"}, "y": {"datum": 243.8}}
            },
            {
              "data": {"values": [{}]},
              "mark": {"type": "rect", "fill": "#ffffff", "stroke": "#3d8ac4", "strokeWidth": 0.8, "xOffset": -1, "x2Offset": 17, "yOffset": -4.5, "y2Offset": 4.5},
              "encoding": {"x": {"datum": {"year": 2028, "month": 3, "date": 20}, "type": "temporal"}, "x2": {"datum": {"year": 2028, "month": 3, "date": 20}}, "y": {"datum": 6.829}, "y2": {"datum": 6.829}}
            },
            {
              "data": {"values": [{}]},
              "mark": {"type": "text", "text": "6.829", "fontSize": 7.5, "dx": 8, "align": "center", "baseline": "middle", "color": "#333333"},
              "encoding": {"x": {"datum": {"year": 2028, "month": 3, "date": 20}, "type": "temporal"}, "y": {"datum": 6.829}}
            },
            {
              "data": {"values": [{}]},
              "mark": {"type": "rect", "fill": "#ffffff", "stroke": "#ee2222", "strokeWidth": 0.8, "xOffset": -2, "x2Offset": 27, "yOffset": -4.5, "y2Offset": 4.5},
              "encoding": {"x": {"datum": {"year": 2028, "month": 3, "date": 20}, "type": "temporal"}, "x2": {"datum": {"year": 2028, "month": 3, "date": 20}}, "y": {"datum": -58.552}, "y2": {"datum": -58.552}}
            },
            {
              "data": {"values": [{}]},
              "mark": {"type": "rect", "fill": "#ffffff", "stroke": "#000000", "strokeWidth": 0.8, "xOffset": -2, "x2Offset": 27, "yOffset": -4.5, "y2Offset": 4.5},
              "encoding": {"x": {"datum": {"year": 2028, "month": 3, "date": 20}, "type": "temporal"}, "x2": {"datum": {"year": 2028, "month": 3, "date": 20}}, "y": {"datum": -51.723}, "y2": {"datum": -51.723}}
            },
            {
              "data": {"values": [{}]},
              "mark": {"type": "text", "text": "-51.723", "fontSize": 7.5, "dx": 12.5, "align": "center", "baseline": "middle", "color": "#000000"},
              "encoding": {"x": {"datum": {"year": 2028, "month": 3, "date": 20}, "type": "temporal"}, "y": {"datum": -51.723}}
            }
          ]
        },
        {
          "width": 644,
          "height": 82,
          "layer": [
            {
              "data": {"values": [{}]},
              "mark": {"type": "rule", "color": "#8c8c8c", "strokeWidth": 1.5},
              "encoding": {"y": {"datum": 80, "type": "quantitative", "scale": {"domain": [-8.6, 108.6], "nice": false, "zero": false}, "axis": {"orient": "right", "values": [20, 50, 80], "labelOverlap": false}, "title": null}}
            },
            {
              "data": {"values": [{}]},
              "mark": {"type": "rule", "color": "#8c8c8c", "strokeWidth": 1.5},
              "encoding": {"y": {"datum": 20, "type": "quantitative"}}
            },
            {
              "data": {"values": [{}]},
              "mark": {"type": "rule", "color": "#8c8c8c", "strokeWidth": 1, "strokeDash": [8, 3, 2, 3]},
              "encoding": {"y": {"datum": 50, "type": "quantitative"}}
            },
            {
              "data": {"name": "sto"},
              "mark": {"type": "line", "color": "#ff2a2a", "strokeWidth": 1},
              "encoding": {
                "x": {"field": "d", "type": "temporal", "title": null,
                      "scale": {"domain": [{"year": 2004, "month": 7, "date": 16}, {"year": 2028, "month": 3, "date": 20}]},
                      "axis": {"orient": "bottom", "format": "%Y", "tickCount": {"interval": "year", "step": 1}, "labelPadding": 0, "tickSize": 2, "labelOverlap": false, "labelFlush": false}},
                "y": {"field": "dk", "type": "quantitative", "title": null}
              }
            },
            {
              "data": {"name": "sto"},
              "mark": {"type": "line", "color": "#000000", "strokeWidth": 1.3},
              "encoding": {"x": {"field": "d", "type": "temporal", "title": null}, "y": {"field": "k", "type": "quantitative", "title": null}}
            },
            {
              "data": {"values": [{"d": "2022-12-10", "v": -7.6}, {"d": "2024-09-27", "v": 22.4}]},
              "mark": {"type": "line", "color": "#cc0000", "strokeWidth": 3, "strokeDash": [2, 2]},
              "encoding": {"x": {"field": "d", "type": "temporal", "title": null}, "y": {"field": "v", "type": "quantitative", "title": null}}
            },
            {
              "data": {"values": [{}]},
              "mark": {"type": "text", "text": ["positive", "divergence"], "lineHeight": 14, "fontSize": 12.5, "fontWeight": "bold", "align": "left", "baseline": "alphabetic", "color": "#d00000"},
              "encoding": {"x": {"datum": {"year": 2025, "month": 5, "date": 19}, "type": "temporal"}, "y": {"datum": 26.4}}
            },
            {
              "data": {"values": [{}]},
              "mark": {"type": "text", "text": "▬ Full STO %K(14,3) %D(3) 38.55, ", "fontSize": 7, "font": "DejaVu Sans Mono", "align": "left", "baseline": "middle", "color": "#000000"},
              "encoding": {"x": {"datum": {"year": 2004, "month": 10, "date": 5}, "type": "temporal"}, "y": {"datum": 102.9}}
            },
            {
              "data": {"values": [{}]},
              "mark": {"type": "text", "text": "33.71", "fontSize": 7, "font": "DejaVu Sans Mono", "align": "left", "baseline": "middle", "color": "#ee2222"},
              "encoding": {"x": {"datum": {"year": 2009, "month": 10, "date": 10}, "type": "temporal"}, "y": {"datum": 102.9}}
            },
            {
              "data": {"values": [{}]},
              "mark": {"type": "rect", "fill": "#ffffff", "stroke": "#ee2222", "strokeWidth": 0.8, "xOffset": -2, "x2Offset": 20, "yOffset": -4.5, "y2Offset": 4.5},
              "encoding": {"x": {"datum": {"year": 2028, "month": 3, "date": 20}, "type": "temporal"}, "x2": {"datum": {"year": 2028, "month": 3, "date": 20}}, "y": {"datum": 33.71}, "y2": {"datum": 33.71}}
            },
            {
              "data": {"values": [{}]},
              "mark": {"type": "rect", "fill": "#ffffff", "stroke": "#000000", "strokeWidth": 0.8, "xOffset": -2, "x2Offset": 20, "yOffset": -4.5, "y2Offset": 4.5},
              "encoding": {"x": {"datum": {"year": 2028, "month": 3, "date": 20}, "type": "temporal"}, "x2": {"datum": {"year": 2028, "month": 3, "date": 20}}, "y": {"datum": 38.55}, "y2": {"datum": 38.55}}
            },
            {
              "data": {"values": [{}]},
              "mark": {"type": "text", "text": "38.55", "fontSize": 7.5, "dx": 9, "align": "center", "baseline": "middle", "color": "#000000"},
              "encoding": {"x": {"datum": {"year": 2028, "month": 3, "date": 20}, "type": "temporal"}, "y": {"datum": 38.55}}
            }
          ]
        }
      ]
    }
  ]
}
